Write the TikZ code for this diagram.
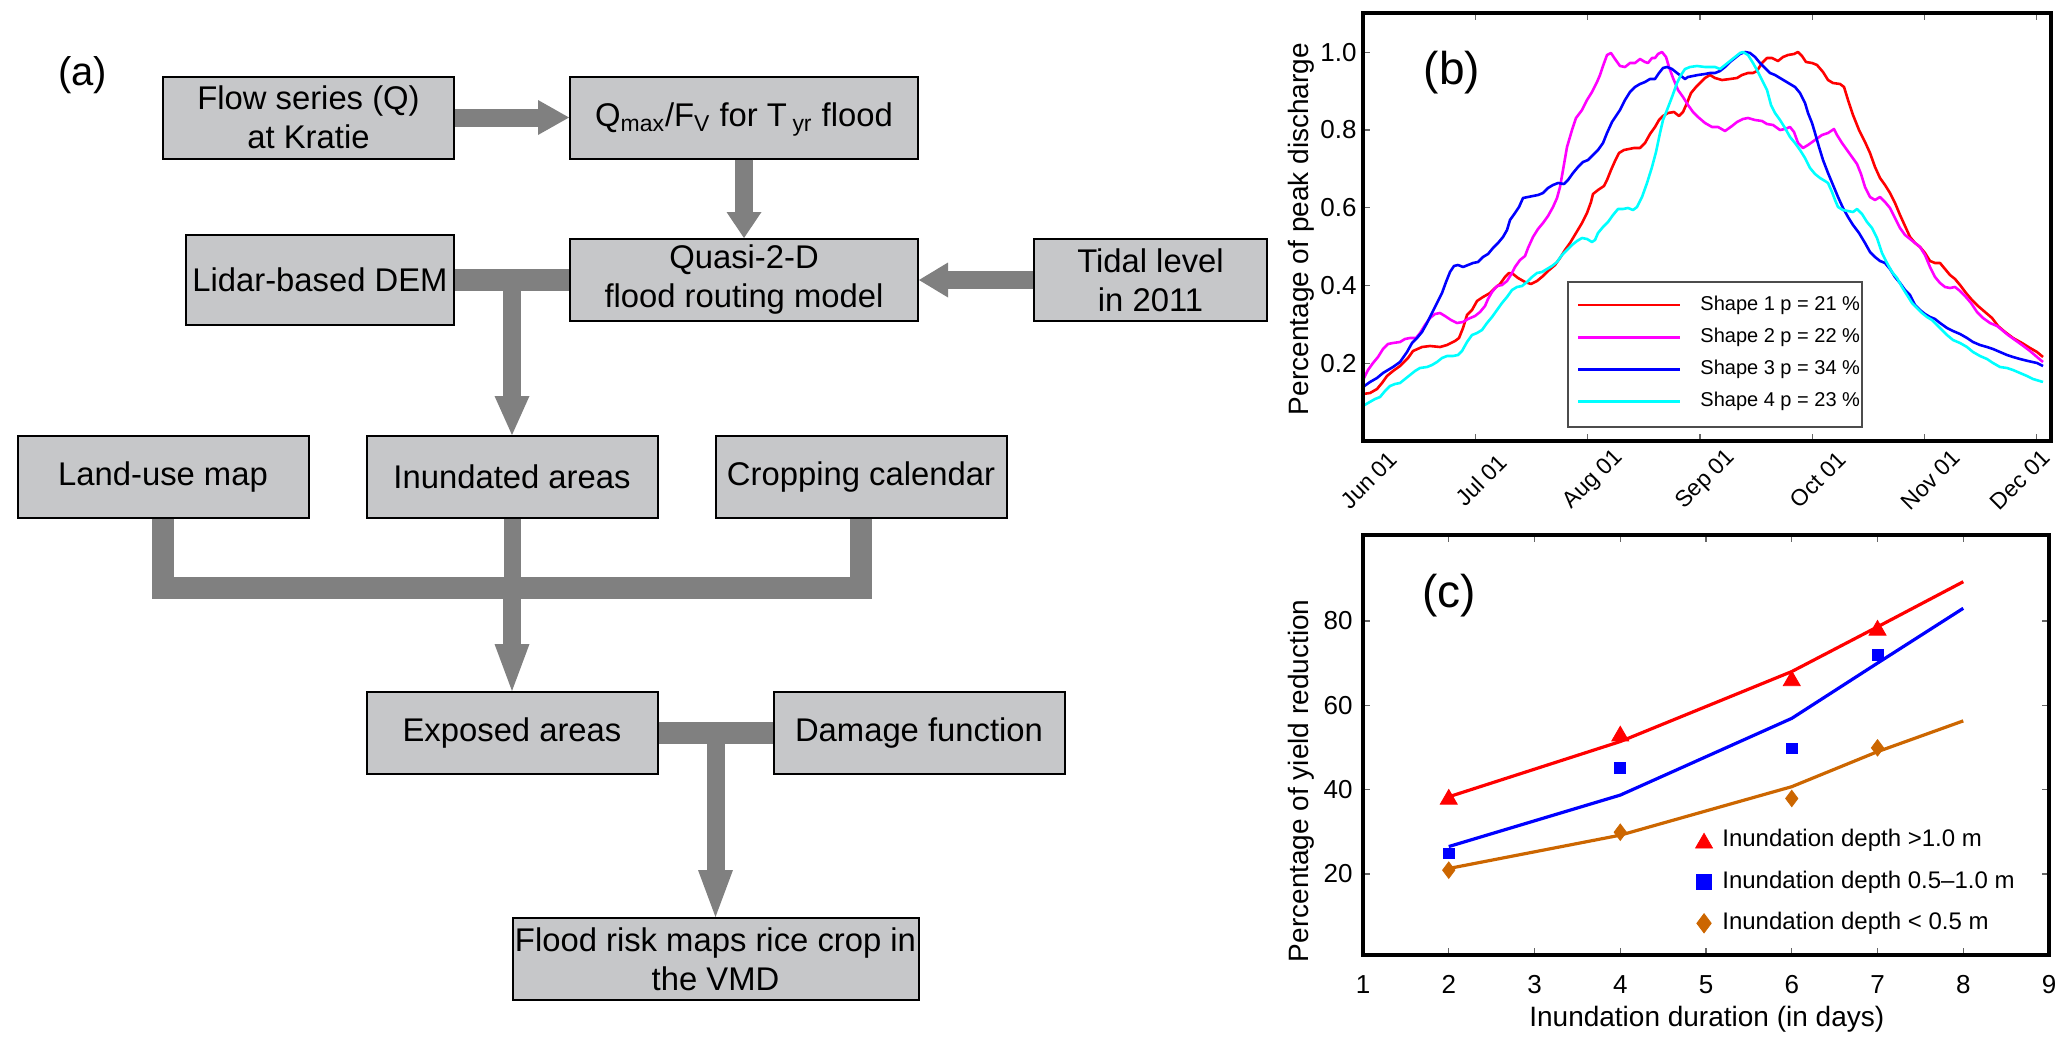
\documentclass[tikz,border=0pt]{standalone}
\usepackage{fontspec}
\setmainfont{Liberation Sans}
\usetikzlibrary{positioning,calc,arrows.meta,plotmarks}
\definecolor{boxgray}{RGB}{198,199,201}
\definecolor{arrowgray}{RGB}{128,128,128}
\definecolor{shapeone}{RGB}{255,0,0}
\definecolor{shapetwo}{RGB}{255,0,255}
\definecolor{shapethree}{RGB}{0,0,255}
\definecolor{shapefour}{RGB}{0,255,255}
\definecolor{shallow}{RGB}{204,102,0}
\tikzset{%
  procbox/.style = {rectangle,draw,line width=1pt,fill=boxgray,align=center,inner sep=0pt,
        minimum width=145.5pt,minimum height=41pt,font=\fontsize{16.4pt}{19.5pt}\selectfont},
  thickarrow/.style = {draw=arrowgray,line width=9pt,-{Triangle[length=#1,width=17.5pt,line width=0pt]}},
  thickarrow/.default = 15.5pt,
  joinbar/.style = {draw=arrowgray,line width=11pt},
  plotframe/.style = {draw,line width=2pt},
  tickmark/.style = {draw=black!60,line width=0.6pt},
  ticklabel/.style = {inner sep=0pt,font=\fontsize{13pt}{15pt}\selectfont},
  monthlabel/.style = {rotate=45,inner sep=0pt,font=\fontsize{11.5pt}{13pt}\selectfont},
  axislabel/.style = {inner sep=0pt,font=\fontsize{14pt}{17pt}\selectfont},
  panellabel/.style = {inner sep=0pt,font=\fontsize{23pt}{27pt}\selectfont},
  discharge/.style = {line width=1.3pt,line join=round},
  fitline/.style = {line width=1.6pt,line join=round},
  legendtext/.style = {anchor=west,inner sep=0pt}
}
\begin{document}
\begin{tikzpicture}[x=0.5pt,y=-0.5pt]
\useasboundingbox (0,0) rectangle (2067,1044);

\node[inner sep=0pt,font=\fontsize{20pt}{24pt}\selectfont] (lbla) at (82.5,75.5) {(a)};
\node[procbox] (flow) at (308.5,117.5) {Flow series (Q)\\at Kratie};
\node[procbox,minimum width=174pt] (qmax) [right=57pt of flow] {Q\smash{\textsubscript{max}}/F\smash{\textsubscript{V}} for T\,\smash{\textsubscript{yr}} flood};
\node[procbox,minimum width=174pt] (quasi) [below=39.25pt of qmax] {Quasi-2-D\\flood routing model};
\node[procbox,minimum width=134pt,minimum height=45pt] (lidar) [left=57pt of quasi] {Lidar-based DEM};
\node[procbox,minimum width=116.5pt] (tidal) [right=57pt of quasi] {Tidal level\\in 2011};
\coordinate (j1) at ($(lidar.east)!0.5!(quasi.west)$);
\node[procbox] (inund) [below=77.5pt of j1] {Inundated areas};
\node[procbox] (land) [left=28pt of inund] {Land-use map};
\node[procbox] (crop) [right=28pt of inund] {Cropping calendar};
\coordinate (j2) at ([yshift=-34.5pt]inund.south);
\node[procbox] (expo) [below=86pt of inund] {Exposed areas};
\node[procbox] (damage) [right=57pt of expo] {Damage function};
\coordinate (j3) at ($(expo.east)!0.5!(damage.west)$);
\node[procbox,minimum width=203pt] (flood) [below=92pt of j3] {Flood risk maps rice crop in\\the VMD};

\draw[thickarrow] (flow) -- (qmax);
\draw[thickarrow=13pt] (qmax) -- (quasi);
\draw[thickarrow=14.5pt] (tidal) -- (quasi);
\draw[joinbar] (lidar) -- (quasi);
\draw[thickarrow=19.5pt] (j1) -- (inund);
\draw[joinbar] (land) -- (land |- j2) -- (crop |- j2) -- (crop);
\draw[joinbar,line width=8.5pt] (inund) -- (j2);
\draw[thickarrow=23.5pt] (j2) -- (expo);
\draw[joinbar] (expo) -- (damage);
\draw[thickarrow=23.5pt] (j3) -- (flood);

\draw[discharge,shapeone] plot coordinates {(1363,394) (1370,393) (1377,389) (1382,383) (1387,376) (1393,371) (1400,366) (1408,358) (1413,351) (1422,347) (1430,346) (1440,347) (1447,345) (1455,341) (1459,338) (1463,328) (1467,315) (1472,310) (1477,301) (1483,297) (1490,293) (1495,288) (1500,284) (1505,277) (1509,273) (1513,274) (1518,278) (1525,282) (1531,284) (1537,281) (1543,276) (1548,271) (1555,265) (1560,258) (1565,250) (1570,243) (1576,233) (1582,223) (1587,213) (1591,202) (1593,194) (1598,190) (1604,186) (1607,180) (1611,170) (1615,161) (1619,153) (1624,150) (1629,149) (1634,148) (1640,148) (1645,143) (1650,134) (1655,127) (1659,120) (1663,116) (1668,113) (1674,112) (1679,116) (1683,112) (1687,103) (1691,93) (1696,87) (1705,78) (1710,75) (1715,78) (1722,80) (1730,79) (1737,78) (1742,75) (1748,73) (1753,73) (1757,71) (1762,63) (1767,58) (1772,58) (1778,61) (1783,57) (1788,55) (1794,54) (1798,52) (1802,56) (1806,62) (1812,63) (1817,65) (1823,72) (1828,80) (1833,83) (1840,84) (1844,87) (1848,100) (1853,115) (1859,130) (1865,142) (1870,153) (1875,167) (1880,178) (1885,185) (1890,193) (1895,203) (1900,215) (1905,226) (1910,237) (1915,243) (1920,247) (1925,253) (1930,261) (1935,263) (1940,263) (1945,269) (1950,275) (1955,279) (1960,285) (1966,293) (1972,300) (1978,306) (1985,312) (1992,318) (1998,326) (2005,332) (2013,338) (2022,343) (2030,348) (2037,352) (2043,357)};
\draw[discharge,shapetwo] plot coordinates {(1363,380) (1368,370) (1373,363) (1378,357) (1383,349) (1388,344) (1393,343) (1400,342) (1405,339) (1410,338) (1416,338) (1420,333) (1425,325) (1430,318) (1435,314) (1440,313) (1445,316) (1451,320) (1457,323) (1463,322) (1468,319) (1475,316) (1480,312) (1485,306) (1488,299) (1492,292) (1497,286) (1502,285) (1507,281) (1512,273) (1515,267) (1520,260) (1525,256) (1528,248) (1533,237) (1538,229) (1543,223) (1548,216) (1553,207) (1557,198) (1560,187) (1563,170) (1567,147) (1572,130) (1576,118) (1582,110) (1587,100) (1592,92) (1597,82) (1600,75) (1603,66) (1607,55) (1611,53) (1615,59) (1620,66) (1625,67) (1630,63) (1635,63) (1640,59) (1645,62) (1648,63) (1652,58) (1655,58) (1658,54) (1662,52) (1666,57) (1669,67) (1673,78) (1678,90) (1683,97) (1688,105) (1693,112) (1698,117) (1705,123) (1712,127) (1718,127) (1725,131) (1732,126) (1737,122) (1743,119) (1748,118) (1755,120) (1762,121) (1767,124) (1773,125) (1780,130) (1785,129) (1790,127) (1794,132) (1798,143) (1803,148) (1808,145) (1815,140) (1822,135) (1828,133) (1834,129) (1837,135) (1842,143) (1847,150) (1852,157) (1857,164) (1861,174) (1865,187) (1870,197) (1875,200) (1880,197) (1885,202) (1890,208) (1895,218) (1900,228) (1905,235) (1910,239) (1915,243) (1920,247) (1925,255) (1930,267) (1935,277) (1940,283) (1945,287) (1950,288) (1955,287) (1960,291) (1965,296) (1971,303) (1977,312) (1983,318) (1990,323) (1997,326) (2002,330) (2008,335) (2015,340) (2022,345) (2030,351) (2037,357) (2043,362)};
\draw[discharge,shapethree] plot coordinates {(1363,387) (1370,382) (1377,378) (1383,373) (1388,370) (1393,367) (1400,362) (1407,352) (1412,343) (1417,338) (1422,332) (1427,323) (1432,313) (1437,303) (1442,293) (1446,282) (1450,272) (1454,266) (1458,265) (1463,267) (1468,265) (1473,263) (1478,262) (1483,257) (1488,254) (1493,248) (1498,243) (1503,237) (1507,230) (1510,220) (1515,213) (1519,207) (1523,198) (1528,197) (1533,196) (1538,195) (1543,193) (1548,188) (1553,185) (1558,183) (1564,184) (1568,180) (1573,173) (1578,167) (1583,162) (1588,160) (1593,155) (1598,150) (1603,143) (1607,133) (1612,122) (1616,116) (1620,110) (1625,100) (1630,92) (1635,87) (1640,84) (1645,82) (1650,79) (1655,79) (1659,73) (1663,68) (1667,67) (1672,69) (1677,73) (1681,76) (1685,79) (1688,77) (1693,76) (1698,75) (1705,74) (1710,73) (1715,73) (1720,71) (1725,67) (1730,62) (1735,58) (1740,54) (1745,52) (1750,53) (1755,57) (1760,63) (1765,68) (1770,73) (1775,75) (1780,78) (1785,81) (1790,84) (1795,87) (1800,93) (1805,103) (1808,113) (1812,123) (1815,133) (1819,147) (1823,160) (1828,173) (1833,185) (1838,197) (1843,208) (1848,217) (1853,225) (1859,233) (1865,243) (1870,252) (1875,257) (1880,261) (1885,263) (1890,269) (1895,277) (1900,283) (1905,290) (1910,295) (1915,305) (1920,310) (1925,314) (1930,317) (1935,319) (1940,323) (1947,328) (1953,331) (1960,334) (1967,338) (1973,342) (1980,345) (1987,347) (1993,349) (2000,352) (2007,355) (2013,357) (2020,359) (2028,361) (2037,363) (2043,366)};
\draw[discharge,shapefour] plot coordinates {(1363,406) (1368,403) (1375,399) (1380,397) (1385,391) (1390,386) (1395,384) (1400,383) (1405,379) (1410,375) (1415,371) (1420,368) (1427,367) (1432,365) (1437,362) (1442,358) (1447,356) (1453,356) (1458,355) (1462,351) (1467,342) (1472,335) (1477,333) (1482,330) (1487,323) (1492,317) (1497,310) (1502,303) (1507,297) (1512,290) (1517,287) (1522,286) (1527,282) (1532,277) (1537,273) (1542,272) (1547,269) (1552,266) (1557,262) (1562,255) (1567,250) (1572,245) (1577,241) (1582,238) (1587,239) (1592,242) (1595,240) (1598,233) (1603,227) (1608,222) (1613,215) (1618,209) (1623,209) (1628,208) (1633,210) (1637,207) (1642,197) (1647,183) (1652,167) (1656,152) (1660,133) (1663,120) (1667,110) (1672,97) (1677,83) (1681,75) (1685,69) (1690,67) (1697,66) (1705,67) (1710,67) (1715,67) (1720,69) (1725,65) (1730,61) (1735,57) (1740,53) (1743,52) (1748,55) (1753,63) (1758,72) (1763,82) (1767,90) (1771,105) (1775,113) (1780,120) (1785,128) (1790,137) (1795,143) (1800,150) (1805,158) (1810,168) (1815,174) (1820,178) (1825,181) (1828,183) (1832,192) (1835,200) (1838,207) (1843,210) (1848,211) (1853,212) (1857,209) (1862,214) (1867,222) (1872,228) (1877,238) (1882,253) (1887,263) (1892,272) (1897,278) (1902,287) (1907,295) (1912,303) (1917,308) (1922,313) (1927,317) (1932,320) (1937,325) (1942,330) (1947,335) (1953,340) (1960,343) (1967,347) (1973,352) (1980,356) (1987,359) (1993,363) (2000,367) (2007,368) (2013,370) (2020,373) (2027,376) (2033,379) (2043,382)};

\draw[black!70,line width=0.6pt,fill=white] (1568,282) rectangle (1862,427);
\foreach \col/\shapeno/\share [count=\k from 0] in {shapeone/1/21,shapetwo/2/22,shapethree/3/34,shapefour/4/23} {
  \draw[discharge,\col] (1578,{305+32.2*\k}) -- (1680,{305+32.2*\k});
  \node[legendtext,font=\fontsize{10pt}{12pt}\selectfont] (key\shapeno) at (1700,{305+32.2*\k}) {Shape \shapeno\ p = \share\ \%};
}
\foreach \v [count=\i] in {0.2,0.4,0.6,0.8,1.0} {
  \draw[tickmark] (1363,{440.8-388.5*\v}) -- ++(7,0);
  \node[ticklabel,anchor=east] (ytickb\i) at (1357,{440.8-388.5*\v}) {\v};
}
\foreach \m/\dx [count=\i from 0] in {Jun/0,Jul/0,Aug/0,Sep/0,Oct/0,Nov/0,Dec/-23} {
  \draw[tickmark] ({1363+112.3*\i},441) -- ++(0,-7);
  \draw[tickmark] ({1363+112.3*\i},13) -- ++(0,7);
  \node[monthlabel] (month\i) at ({1369+112.3*\i+\dx},480) {\m\ 01};
}
\draw[plotframe] (1363,13) rectangle (2051,441);
\node[panellabel] (lblb) at (1452,73) {(b)};
\node[axislabel,rotate=90] (ylabb) at (1301,229) {Percentage of peak discharge};

\begin{scope}[shift={(638.625pt,-479.15pt)},x=42.875pt,y=2.1085pt]
  \draw[fitline,shapeone] plot coordinates {(2,38.3) (4,51.4) (6,68.0) (7,78.6) (8,89.3)};
  \draw[fitline,shapethree] plot coordinates {(2,26.5) (4,38.7) (6,56.9) (7,70.0) (8,83.0)};
  \draw[fitline,shallow] plot coordinates {(2,21.3) (4,29.2) (6,40.7) (7,49.0) (8,56.3)};
  \draw[shapeone] plot[only marks,mark=triangle*,mark size=4.9pt] coordinates {(2,37.7) (4,52.7) (6,65.8) (7,77.8)};
  \draw[shapethree] plot[only marks,mark=square*,mark size=2.7pt] coordinates {(2,24.9) (4,45.1) (6,49.8) (7,71.9)};
  \draw[shallow] plot[only marks,mark=diamond*,mark size=4.1pt] coordinates {(2,20.9) (4,29.9) (6,37.9) (7,49.9)};

  \draw[shapeone] plot[only marks,mark=triangle*,mark size=4.9pt] coordinates {(4.977,27.3)};
  \node[legendtext,font=\fontsize{12pt}{14pt}\selectfont] (keydeep) at (5.186,27.9) {Inundation depth >1.0 m};
  \draw[shapethree] plot[only marks,mark=square*,mark size=3.8pt] coordinates {(4.977,18.1)};
  \node[legendtext,font=\fontsize{12pt}{14pt}\selectfont] (keymid) at (5.186,18.1) {Inundation depth 0.5--1.0 m};
  \draw[shallow] plot[only marks,mark=diamond*,mark size=4.8pt] coordinates {(4.977,8.3)};
  \node[legendtext,font=\fontsize{12pt}{14pt}\selectfont] (keylow) at (5.186,8.3) {Inundation depth < 0.5 m};

  \foreach \t in {2,...,8} {
    \draw[tickmark] (\t,0.8) -- ++(0,1.7);
    \draw[tickmark] (\t,100.4) -- ++(0,-1.7);
  }
  \foreach \t in {1,...,9}
    \node[ticklabel] (xtickc\t) at (\t,-6.3) {\t};
  \foreach \t in {20,40,60,80} {
    \draw[tickmark] (1,\t) -- ++(0.08,0);
    \draw[tickmark] (9,\t) -- ++(-0.08,0);
    \node[ticklabel,anchor=east] (ytickc\t) at (0.883,\t) {\t};
  }
  \draw[plotframe] (1,0.8) rectangle (9,100.4);
  \node[panellabel] (lblc) at (2.007,85.9) {(c)};
  \node[axislabel] (xlabc) at (5.009,-14.4) {Inundation duration (in days)};
  \node[axislabel,rotate=90] (ylabc) at (0.28,42.1) {Percentage of yield reduction};
\end{scope}
\end{tikzpicture}
\end{document}
